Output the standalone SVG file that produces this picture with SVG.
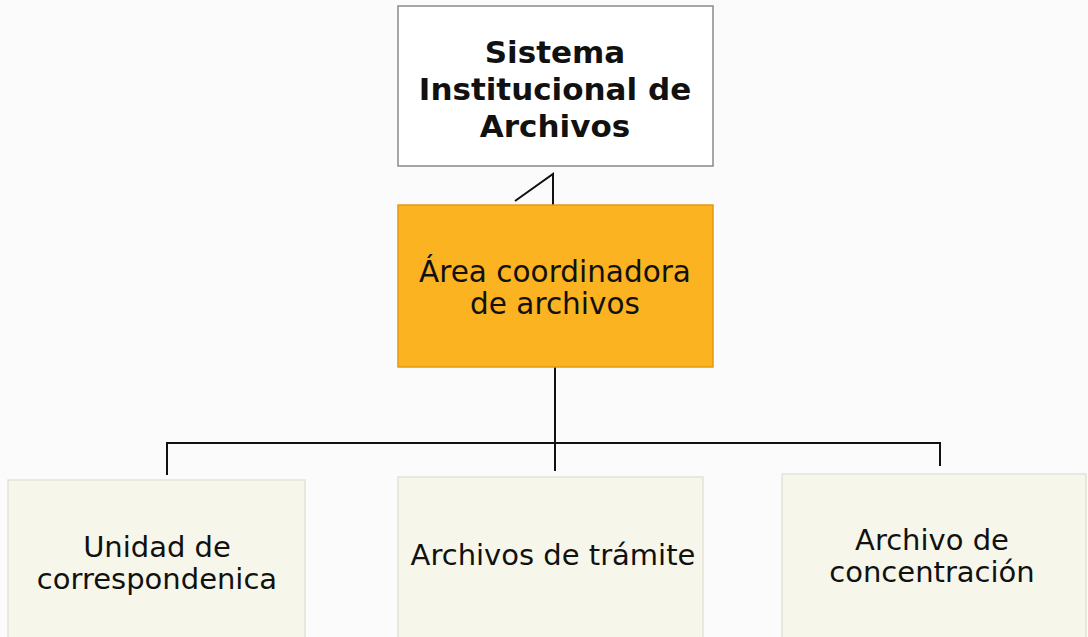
<svg xmlns="http://www.w3.org/2000/svg" width="1088" height="637" viewBox="0 0 1088 637">
<style>
.t{font-family:"DejaVu Sans",Verdana,sans-serif;fill:#111;text-anchor:middle}
.b{font-weight:bold;font-size:31px}
.m{font-size:29.5px}
.s{font-size:29px}
.leaf{fill:#f6f7ea;stroke:#e2e3d6;stroke-width:1.5}
.ln{fill:none;stroke:#111;stroke-width:2}
</style>
<rect width="1088" height="637" fill="#fbfbfb"/>
<g id="connectors">
<path class="ln" d="M515,201 L553,174 L553,205"/>
<path class="ln" d="M555,367 L555,443"/>
<path class="ln" d="M167,475 L167,443 L940,443 L940,466"/>
<path class="ln" d="M555,443 L555,471"/>
</g>
<g id="sistema">
<rect x="398" y="6" width="315" height="160" fill="#ffffff" stroke="#8a8a8a" stroke-width="1.5"/>
<text class="t b" x="555" y="63">Sistema</text>
<text class="t b" x="555" y="100">Institucional de</text>
<text class="t b" x="555" y="137">Archivos</text>
</g>
<g id="area">
<rect x="398" y="205" width="315" height="162" fill="#fbb321" stroke="#e59a10" stroke-width="1.5"/>
<text class="t m" x="555" y="282">Área coordinadora</text>
<text class="t m" x="555" y="314">de archivos</text>
</g>
<g id="unidad">
<rect class="leaf" x="8" y="480" width="297" height="160"/>
<text class="t s" x="157" y="557">Unidad de</text>
<text class="t s" x="157" y="589">correspondenica</text>
</g>
<g id="tramite">
<rect class="leaf" x="398" y="477" width="305" height="163"/>
<text class="t s" x="553" y="565">Archivos de trámite</text>
</g>
<g id="concentracion">
<rect class="leaf" x="782" y="474" width="304" height="166"/>
<text class="t s" x="932" y="550">Archivo de</text>
<text class="t s" x="932" y="582">concentración</text>
</g>
</svg>
